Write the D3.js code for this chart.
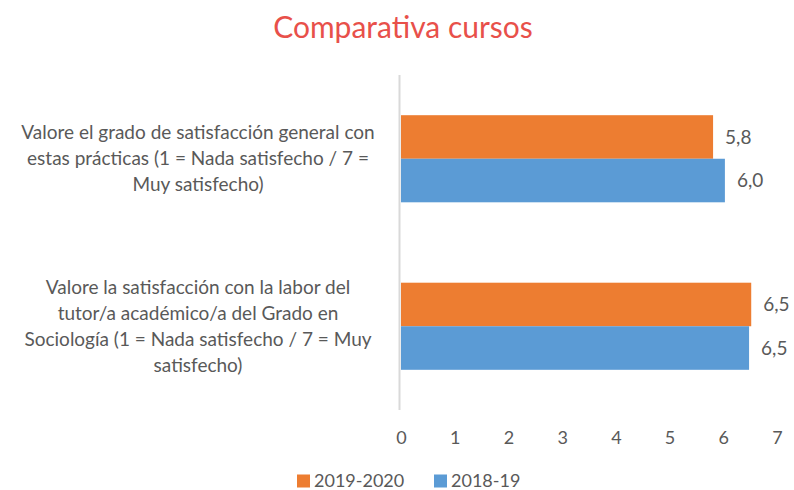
<!DOCTYPE html>
<html>
<head>
<meta charset="utf-8">
<script src="https://cdnjs.cloudflare.com/ajax/libs/d3/7.8.5/d3.min.js"></script>
<style>
  body { margin: 0; background: #fff; }
  text { font-family: Lato, "Open Sans", sans-serif; }
</style>
</head>
<body>
<div id="chart"></div>
<script>
// categories (top to bottom), with the line breaks seen in the picture
var categories = [
    ["Valore el grado de satisfacción general con", "estas prácticas (1 = Nada satisfecho / 7 =", "Muy satisfecho)"],
    ["Valore la satisfacción con la labor del", "tutor/a académico/a del Grado en", "Sociología (1 = Nada satisfecho / 7 = Muy", "satisfecho)"]
];
var series = ["2019-2020", "2018-19"];
var values2019 = [5.81, 6.52];
var values2018 = [6.03, 6.48];
var ticks = [0, 1, 2, 3, 4, 5, 6, 7];

var colors = { "2019-2020": "#ED7D31", "2018-19": "#5B9BD5" };

var width = 794, height = 490;
var margin = { top: 75, right: 17, bottom: 80, left: 401 };

var svg = d3.select("#chart").append("svg")
    .attr("width", width)
    .attr("height", height);

var rows = categories.map((c, i) => ({
    key: "c" + i,
    lines: c,
    vals: [
        { s: series[0], v: values2019[i] },
        { s: series[1], v: values2018[i] }
    ]
}));

// scales
var x = d3.scaleLinear()
    .domain([0, 7])
    .range([margin.left, width - margin.right]);

var y = d3.scaleBand()
    .domain(rows.map(d => d.key))
    .range([margin.top, height - margin.bottom])
    .paddingInner(0.48)
    .paddingOuter(0.24);

var ys = d3.scaleBand()
    .domain(series)
    .range([0, y.bandwidth()]);

// title
svg.append("text")
    .attr("x", 403)
    .attr("y", 38)
    .attr("text-anchor", "middle")
    .style("font-size", "30px")
    .style("fill", "#E8504A")
    .text("Comparativa cursos");

// bars
var g = svg.selectAll(".row")
    .data(rows)
    .enter().append("g")
    .attr("class", "row")
    .attr("transform", d => "translate(0," + y(d.key) + ")");

g.selectAll("rect")
    .data(d => d.vals)
    .enter().append("rect")
    .attr("x", x(0))
    .attr("y", d => ys(d.s))
    .attr("width", d => x(d.v) - x(0))
    .attr("height", ys.bandwidth())
    .attr("fill", d => colors[d.s]);

var fmt = d => d3.format(".1f")(d).replace(".", ",");

g.selectAll(".val")
    .data(d => d.vals)
    .enter().append("text")
    .attr("class", "val")
    .attr("x", d => x(d.v) + 12)
    .attr("y", d => ys(d.s) + ys.bandwidth() / 2)
    .attr("dy", "0.35em")
    .style("font-size", "19px")
    .style("fill", "#595959")
    .text(d => fmt(d.v));

// category labels
var lineH = 26;
g.append("text")
    .attr("text-anchor", "middle")
    .style("font-size", "19px")
    .style("fill", "#595959")
    .each(function(d) {
        var t = d3.select(this);
        var n = d.lines.length;
        d.lines.forEach((l, i) => {
            t.append("tspan")
                .attr("x", 198)
                .attr("y", y.bandwidth() / 2 + (i - (n - 1) / 2) * lineH)
                .attr("dy", "0.35em")
                .text(l);
        });
    });

// y axis line
svg.append("line")
    .attr("x1", x(0) - 1.5).attr("x2", x(0) - 1.5)
    .attr("y1", margin.top).attr("y2", height - margin.bottom)
    .attr("stroke", "#D9D9D9")
    .attr("stroke-width", 2);

// x axis (labels only)
var xAxis = svg.append("g")
    .attr("transform", "translate(0," + (height - margin.bottom) + ")")
    .call(d3.axisBottom(x).tickValues(ticks).tickSize(0).tickPadding(21).tickFormat(d3.format("d")));
xAxis.select(".domain").remove();
xAxis.selectAll("text")
    .style("font-family", "Lato, sans-serif")
    .style("font-size", "18px")
    .style("fill", "#595959");

// legend
var legend = svg.append("g")
    .attr("transform", "translate(297,481)");
var legX = [0, 137];
series.forEach((s, i) => {
    var lg = legend.append("g").attr("transform", "translate(" + legX[i] + ",0)");
    lg.append("rect")
        .attr("x", 0).attr("y", -6.5)
        .attr("width", 13).attr("height", 13)
        .attr("fill", colors[s]);
    lg.append("text")
        .attr("x", 17)
        .attr("dy", "0.35em")
        .style("font-size", "18px")
        .style("fill", "#595959")
        .text(s);
});
</script>
</body>
</html>
